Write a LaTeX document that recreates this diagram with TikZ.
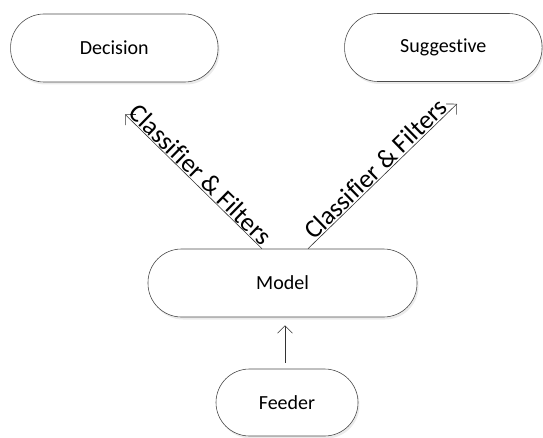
\documentclass[tikz,border=0pt]{standalone}
\usepackage{fontspec}
\setmainfont{Carlito}[Ligatures={NoCommon,NoContextual}]
\usetikzlibrary{arrows.meta,shadows}

\begin{document}
\begin{tikzpicture}[x=1pt,y=1pt,
 pill/.style={draw=black!70,line width=.6pt,fill=white,rounded corners=33.5pt,
  minimum height=68pt,font=\fontsize{20}{24}\selectfont,
  drop shadow={shadow xshift=1.5pt,shadow yshift=-2.5pt,fill=black!8,opacity=1}},
 arr/.style={draw=black!80,line width=.6pt,-{Straight Barb[length=7.5pt,width=15pt]}},
 lbl/.style={midway,sloped,above,inner sep=1pt,font=\fontsize{26}{30}\selectfont}]
 \useasboundingbox (0,0) rectangle (543,437);
 \node[pill,minimum width=207.5pt] (Decision) at (114.3,389) {Decision};
 \node[pill,minimum width=197.5pt] (Suggestive) at (443.3,389.5) {Suggestive};
 \node[pill,minimum width=269pt] (Model) at (282.5,154) {Model};
 \node[pill,minimum width=142pt,minimum height=67pt] (Feeder) at (287,34.5) {Feeder};
 \coordinate (dtip) at ([xshift=10.7pt,yshift=-32pt]Decision.south);
 \coordinate (stip) at ([xshift=13.7pt,yshift=-22pt]Suggestive.south);
 \draw[arr] ([xshift=-20.5pt]Model.north) -- (dtip) node[lbl]{Classifier \& Filters};
 \draw[arr] ([xshift=25.5pt]Model.north) -- (stip) node[lbl]{Classifier \& Filters};
 \draw[arr,shorten <=6pt,shorten >=8pt] ([xshift=-2pt]Feeder.north) -- ([xshift=-2pt]Feeder.north |- Model.south);
\end{tikzpicture}
\end{document}
